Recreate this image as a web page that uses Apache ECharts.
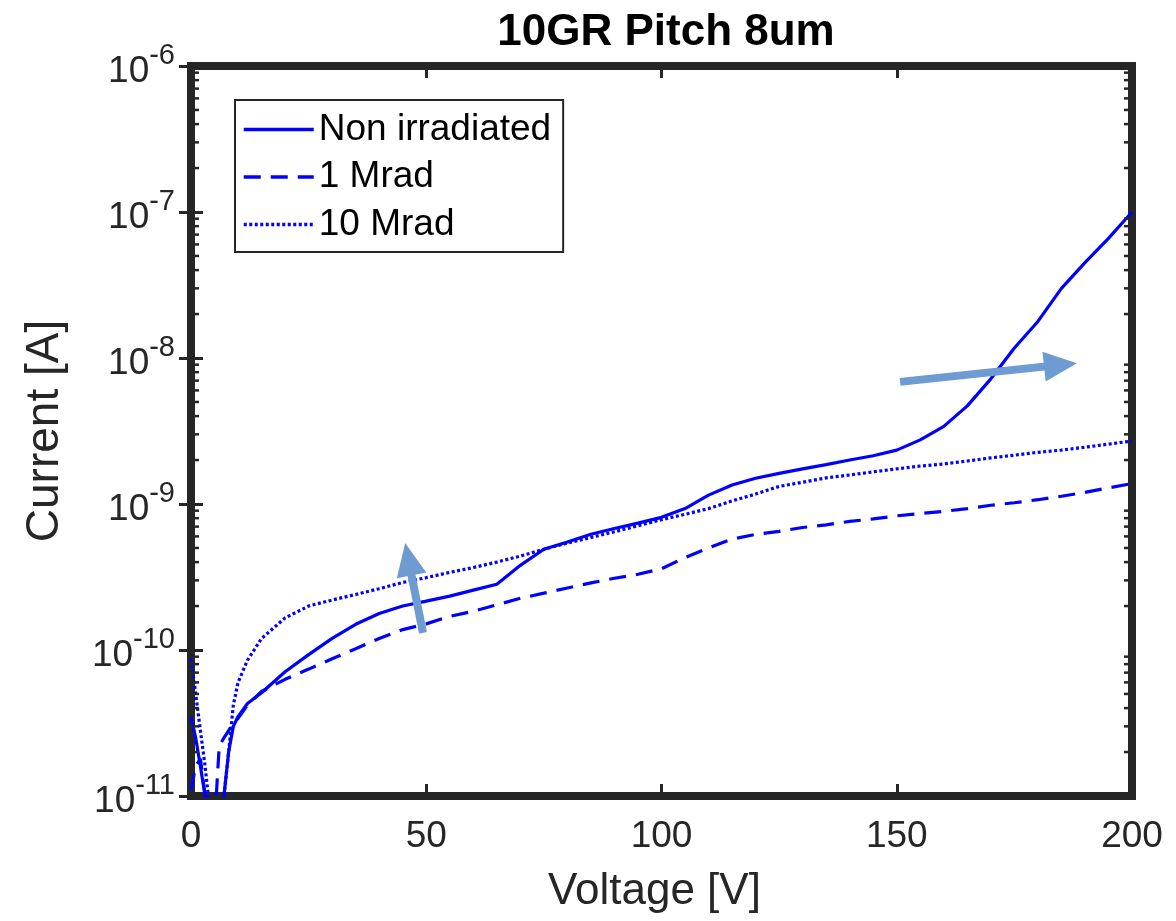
<!DOCTYPE html>
<html>
<head>
<meta charset="utf-8">
<title>10GR Pitch 8um</title>
<script src="https://cdn.jsdelivr.net/npm/echarts@6/dist/echarts.min.js"></script>
<style>
  html, body { margin: 0; padding: 0; background: #ffffff; }
  #chart { width: 1176px; height: 921px; }
</style>
</head>
<body>
<div id="chart"></div>
<script>
// Bias voltage steps [V]
const voltage = [0, 1, 2, 3, 4, 5, 6, 7, 8, 9, 10, 12, 15, 20, 25, 30, 35, 40, 45, 50,
  55, 60, 65, 70, 75, 80, 85, 90, 95, 100, 105, 110, 115, 120, 125, 130, 135, 140, 145, 150,
  155, 160, 165, 170, 175, 180, 185, 190, 195, 200];

// Leakage current [A]
const currentNonIrradiated = [3.5e-11, 2.5e-11, 1.6e-11, 1.0e-11, 6.3e-12, 5.0e-12, 6.3e-12, 1.0e-11, 2.0e-11, 3.0e-11,
  3.5e-11, 4.3e-11, 5.1e-11, 7.1e-11, 9.3e-11, 1.2e-10, 1.5e-10, 1.78e-10, 2.0e-10, 2.16e-10,
  2.34e-10, 2.57e-10, 2.82e-10, 3.8e-10, 4.9e-10, 5.5e-10, 6.2e-10, 6.8e-10, 7.4e-10, 8.1e-10,
  9.3e-10, 1.15e-9, 1.35e-9, 1.5e-9, 1.62e-9, 1.74e-9, 1.86e-9, 2.0e-9, 2.14e-9, 2.34e-9,
  2.75e-9, 3.4e-9, 4.7e-9, 7.2e-9, 1.17e-8, 1.78e-8, 3.0e-8, 4.5e-8, 6.6e-8, 1.0e-7];

const current1Mrad = [1.1e-11, 1.6e-11, 1.8e-11, 1.0e-11, 6.3e-12, 6.3e-12, 2.2e-11, 2.5e-11, 2.8e-11, 3.2e-11,
  3.4e-11, 4.2e-11, 5.2e-11, 6.3e-11, 7.4e-11, 8.7e-11, 1.02e-10, 1.2e-10, 1.38e-10, 1.51e-10,
  1.7e-10, 1.84e-10, 2.04e-10, 2.26e-10, 2.45e-10, 2.66e-10, 2.88e-10, 3.1e-10, 3.3e-10, 3.6e-10,
  4.3e-10, 5.0e-10, 5.75e-10, 6.2e-10, 6.5e-10, 6.9e-10, 7.2e-10, 7.6e-10, 7.9e-10, 8.3e-10,
  8.6e-10, 8.9e-10, 9.3e-10, 9.8e-10, 1.02e-9, 1.07e-9, 1.13e-9, 1.2e-9, 1.29e-9, 1.38e-9];

const current10Mrad = [8.7e-11, 5.0e-11, 2.8e-11, 1.6e-11, 8.0e-12, 6.3e-12, 6.3e-12, 1.0e-11, 2.0e-11, 4.2e-11,
  6.0e-11, 8.5e-11, 1.2e-10, 1.66e-10, 2.0e-10, 2.2e-10, 2.4e-10, 2.63e-10, 2.9e-10, 3.13e-10,
  3.4e-10, 3.67e-10, 4.0e-10, 4.4e-10, 4.9e-10, 5.4e-10, 5.9e-10, 6.45e-10, 7.1e-10, 7.8e-10,
  8.5e-10, 9.3e-10, 1.05e-9, 1.17e-9, 1.32e-9, 1.41e-9, 1.51e-9, 1.58e-9, 1.66e-9, 1.74e-9,
  1.82e-9, 1.88e-9, 1.97e-9, 2.07e-9, 2.16e-9, 2.26e-9, 2.34e-9, 2.45e-9, 2.57e-9, 2.7e-9];

const seriesNames = ['Non irradiated', '1 Mrad', '10 Mrad'];

// Trend arrows: [tail, head] in (V, A)
const arrowLowField = [[49.3, 1.31e-10], [46.2, 4.19e-10]];
const arrowHighField = [[150.7, 6.86e-9], [184.8, 8.97e-9]];

// Axis ranges and ticks
const xMin = 0, xMax = 200, xStep = 50;
const yMin = 1e-11, yMax = 1e-6;
const minorTickValues = [];
for (let e = -11; e < -6; e++) {
  for (let k = 2; k <= 9; k++) minorTickValues.push([xMin, k * Math.pow(10, e)]);
}

const FONT = '"Liberation Sans", Arial, Helvetica, sans-serif';
const INK = '#262626';
const LINE_BLUE = '#0000ff';
const ARROW_BLUE = '#6e9bd2';
const LINE_W = 3.2;

const pairs = (ys) => voltage.map((v, i) => [v, ys[i]]);

const chart = echarts.init(document.getElementById('chart'), null, { renderer: 'canvas' });

const commonLine = {
  type: 'line',
  xAxisIndex: 0,
  yAxisIndex: 0,
  symbol: 'none',
  showSymbol: false,
  clip: true,
  silent: true,
  z: 3
};

chart.setOption({
  animation: false,
  backgroundColor: '#ffffff',
  title: {
    text: '10GR Pitch 8um',
    left: 666,
    top: 11,
    padding: 0,
    textAlign: 'center',
    textStyle: { fontFamily: FONT, fontSize: 44, lineHeight: 44, fontWeight: 'bold', color: '#000000' }
  },
  legend: {
    data: seriesNames,
    orient: 'vertical',
    left: 235,
    top: 100,
    padding: [11, 12, 9, 7],
    itemWidth: 70,
    itemHeight: 14,
    itemGap: 10.5,
    backgroundColor: '#ffffff',
    borderColor: INK,
    borderWidth: 2,
    borderRadius: 0,
    selectedMode: false,
    // line samples only, no marker in the middle
    itemStyle: { opacity: 0 },
    lineStyle: { width: 3.5 },
    textStyle: { fontFamily: FONT, fontSize: 37, lineHeight: 37, color: '#000000' }
  },
  grid: {
    left: 191,
    right: 44,
    top: 66,
    bottom: 125,
    show: true,
    backgroundColor: '#ffffff',
    borderColor: INK,
    borderWidth: 8
  },
  xAxis: [
    {
      type: 'value',
      position: 'bottom',
      min: xMin, max: xMax, interval: xStep,
      name: 'Voltage [V]',
      nameLocation: 'middle',
      nameGap: 74,
      nameTextStyle: { fontFamily: FONT, fontSize: 44, lineHeight: 44, color: INK, padding: [0, 14, 0, 0] },
      axisLine: { show: false },
      axisTick: { show: true, inside: true, length: 12, lineStyle: { color: INK, width: 3 } },
      axisLabel: { fontFamily: FONT, fontSize: 37, lineHeight: 37, color: INK, margin: 22 },
      splitLine: { show: false }
    },
    {
      type: 'value',
      position: 'top',
      min: xMin, max: xMax, interval: xStep,
      axisLine: { show: false },
      axisTick: { show: true, inside: true, length: 12, lineStyle: { color: INK, width: 3 } },
      axisLabel: { show: false },
      splitLine: { show: false }
    }
  ],
  yAxis: [
    {
      type: 'log',
      logBase: 10,
      position: 'left',
      min: yMin, max: yMax,
      name: 'Current [A]',
      nameLocation: 'middle',
      nameGap: 123,
      nameTextStyle: { fontFamily: FONT, fontSize: 46, lineHeight: 46, color: INK },
      axisLine: { show: false },
      axisTick: { show: true, inside: true, length: 12, lineStyle: { color: INK, width: 3 } },
      axisLabel: {
        margin: 16,
        color: INK,
        formatter: (v) => '{b|10}{s|' + Math.round(Math.log10(v)) + '}',
        rich: {
          b: { fontFamily: FONT, fontSize: 37, lineHeight: 49.5, color: INK, verticalAlign: 'bottom' },
          s: { fontFamily: FONT, fontSize: 29, lineHeight: 29, color: INK, verticalAlign: 'top' }
        }
      },
      splitLine: { show: false },
      minorTick: { show: false }
    },
    {
      type: 'log',
      logBase: 10,
      position: 'right',
      min: yMin, max: yMax,
      axisLine: { show: false },
      axisTick: { show: true, inside: true, length: 12, lineStyle: { color: INK, width: 3 } },
      axisLabel: { show: false },
      splitLine: { show: false }
    }
  ],
  series: [
    // log-axis minor ticks at 2..9 x 10^n on both sides of the frame
    {
      type: 'custom',
      xAxisIndex: 0,
      yAxisIndex: 0,
      silent: true,
      clip: false,
      z: 4,
      data: minorTickValues,
      encode: { x: 0, y: 1 },
      renderItem: function (params, api) {
        const left = api.coord([xMin, api.value(1)]);
        const right = api.coord([xMax, api.value(1)]);
        const style = { stroke: INK, lineWidth: 2.5 };
        return {
          type: 'group',
          children: [
            { type: 'line', shape: { x1: left[0], y1: left[1], x2: left[0] + 8, y2: left[1] }, style },
            { type: 'line', shape: { x1: right[0] - 8, y1: right[1], x2: right[0], y2: right[1] }, style }
          ]
        };
      }
    },
    Object.assign({}, commonLine, {
      name: seriesNames[0],
      data: pairs(currentNonIrradiated),
      lineStyle: { color: LINE_BLUE, width: LINE_W, type: 'solid' },
      itemStyle: { color: LINE_BLUE }
    }),
    Object.assign({}, commonLine, {
      name: seriesNames[1],
      data: pairs(current1Mrad),
      lineStyle: { color: LINE_BLUE, width: LINE_W, type: [17, 10] },
      itemStyle: { color: LINE_BLUE }
    }),
    Object.assign({}, commonLine, {
      name: seriesNames[2],
      data: pairs(current10Mrad),
      lineStyle: { color: LINE_BLUE, width: LINE_W, type: [3, 2.5] },
      itemStyle: { color: LINE_BLUE }
    }),
    // trend arrows
    {
      type: 'line',
      name: 'arrows',
      xAxisIndex: 0,
      yAxisIndex: 0,
      data: [],
      silent: true,
      z: 5,
      markLine: {
        silent: true,
        animation: false,
        symbol: ['none', 'triangle'],
        symbolSize: [30, 33],
        label: { show: false },
        emphasis: { disabled: true },
        lineStyle: { color: ARROW_BLUE, width: 8, type: 'solid', opacity: 1 },
        data: [
          [{ coord: arrowLowField[0] }, { coord: arrowLowField[1] }],
          [{ coord: arrowHighField[0] }, { coord: arrowHighField[1] }]
        ]
      }
    }
  ]
});
</script>
</body>
</html>
